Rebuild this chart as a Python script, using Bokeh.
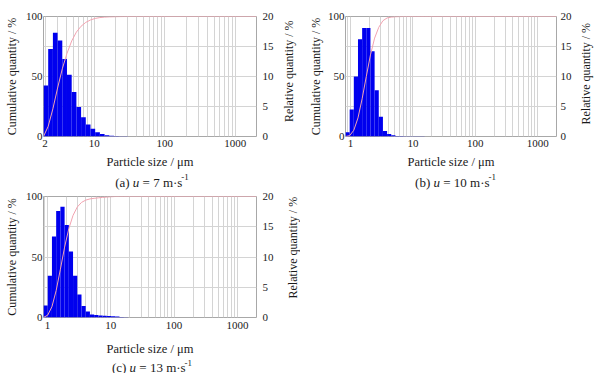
import math
from bokeh.plotting import figure
from bokeh.models import Range1d, LinearAxis, FixedTicker, NumeralTickFormatter
from bokeh.layouts import column, row
from bokeh.core.properties import value
from bokeh.embed import file_html
from bokeh.resources import INLINE

FONT = "Liberation Serif"
TXT = "#1a1a1a"

# ---------------- data ----------------
# bin edges (um), relative quantity per bin (%), cumulative quantity at each edge (%)
edges_a = [1.9, 2.215, 2.583, 3.011, 3.511, 4.093, 4.773, 5.564, 6.488, 7.564,
           8.819, 10.28, 11.99, 13.98, 16.30, 19.0, 22.15, 25.83, 30.11]
rel_a = [8.5, 14.6, 17.3, 16.0, 12.9, 10.3, 7.4, 4.9, 3.2, 2.0,
         1.3, 0.7, 0.4, 0.2, 0.12, 0.08, 0.05, 0.03]
cum_a = [0, 8.5, 23.1, 40.4, 56.4, 69.3, 79.6, 87.0, 91.9, 95.1,
         97.1, 98.4, 99.1, 99.5, 99.7, 99.8, 99.9, 99.95, 100]

edges_b = [0.83, 0.968, 1.128, 1.316, 1.534, 1.788, 2.085, 2.431, 2.834, 3.304,
           3.853, 4.492, 5.237, 6.106, 7.119, 8.3, 9.677, 11.28, 13.16, 15.34, 17.88]
rel_b = [0.7, 4.5, 10.0, 16.2, 18.1, 18.1, 14.2, 7.7, 3.3, 0.9,
         0.4, 0.2, 0.1, 0.08, 0.06, 0.05, 0.05, 0.04, 0.03, 0.02]
cum_b = [0, 0.7, 5.2, 15.5, 31.5, 50.0, 68.0, 82.0, 91.0, 96.5,
         98.8, 99.5, 99.8, 99.9, 100, 100, 100, 100, 100, 100, 100]

edges_c = [0.865, 1.009, 1.176, 1.371, 1.599, 1.864, 2.173, 2.533, 2.954, 3.444,
           4.015, 4.681, 5.458, 6.363, 7.419, 8.65, 10.09, 11.76, 13.71, 15.99, 18.64]
rel_c = [2.0, 6.9, 13.4, 17.6, 18.3, 15.3, 10.9, 6.9, 3.8, 1.9,
         1.0, 0.5, 0.4, 0.35, 0.3, 0.25, 0.2, 0.15, 0.1, 0.05]
cum_c = [0, 2.0, 8.9, 22.3, 39.9, 58.2, 73.5, 84.4, 91.3, 95.1,
         97.0, 98.0, 98.5, 98.9, 99.25, 99.55, 99.8, 100, 100, 100, 100]

xrange_a = (1.9, 2000)
xrange_b = (0.83, 2000)
xrange_c = (0.865, 2000)
xticks_a = [2, 10, 100, 1000]
xticks_bc = [1, 10, 100, 1000]
left_ticks = [0, 50, 100]
right_ticks = [0, 5, 10, 15, 20]
hgrid = [0, 25, 50, 75, 100]

caption_a = ["(a) ", "u", " = 7 m·s", "-1"]
caption_b = ["(b) ", "u", " = 10 m·s", "-1"]
caption_c = ["(c) ", "u", " = 13 m·s", "-1"]

x_title = "Particle size / μm"
yl_title = "Cumulative quantity / %"
yr_title = "Relative quantity / %"

# ---------------- helpers ----------------
WID = {' ': 250, '(': 333, ')': 333, 'a': 444, 'b': 500, 'c': 444, '=': 564,
       '0': 500, '1': 500, '3': 500, '7': 500, 'm': 778, '·': 250, 's': 389,
       '-': 333, 'u': 500}
GRID = "#d4d4d4"


def tw(s, size):
    return sum(WID.get(ch, 500) for ch in s) * size / 1000.0


def log_minors(lo, hi):
    out = []
    for dec in (0.1, 1, 10, 100, 1000):
        for m in range(1, 10):
            v = m * dec
            if lo < v <= hi:
                out.append(v)
    return out


def blank(width, height):
    f = figure(width=width, height=height, x_range=Range1d(0, width),
               y_range=Range1d(0, height), output_backend="svg",
               toolbar_location=None, x_axis_location=None,
               y_axis_location=None, min_border=0)
    f.outline_line_color = None
    f.grid.visible = False
    return f


def panel(edges, rel, cum, xr, xticks, width, height, bl, br, bt, bb,
          yt_standoff=4, rl_standoff=6, xl_standoff=3, xt_standoff=5):
    p = figure(width=width, height=height, x_axis_type="log",
               x_range=Range1d(*xr), y_range=Range1d(0, 100),
               output_backend="svg", toolbar_location=None,
               min_border_left=bl, min_border_right=br,
               min_border_top=bt, min_border_bottom=bb)
    p.background_fill_color = "white"
    p.border_fill_color = "white"
    p.outline_line_color = "#a8a8a8"
    p.outline_line_width = 1
    p.extra_y_ranges = {"rel": Range1d(0, 20)}

    p.quad(left=edges[:-1], right=edges[1:], bottom=0, top=rel,
           y_range_name="rel", fill_color="#0000ee", line_color=None)
    p.line(edges + [xr[1]], cum + [100], line_color="#f2a3b0", line_width=1)

    minors = [v for v in log_minors(xr[0], xr[1]) if v not in xticks]
    xa = p.xaxis[0]
    xa.ticker = FixedTicker(ticks=xticks, minor_ticks=minors)
    xa.formatter = NumeralTickFormatter(format="0")
    xa.axis_label = x_title
    p.xgrid.grid_line_color = GRID
    p.xgrid.minor_grid_line_color = GRID

    ya = p.yaxis[0]
    ya.ticker = FixedTicker(ticks=left_ticks, minor_ticks=[])
    ya.axis_label = yl_title
    p.ygrid.ticker = FixedTicker(ticks=hgrid, minor_ticks=[])
    p.ygrid.grid_line_color = GRID

    ra = LinearAxis(y_range_name="rel",
                    ticker=FixedTicker(ticks=right_ticks, minor_ticks=[]))
    p.add_layout(ra, "right")

    for ax in (xa, ya, ra):
        ax.axis_line_color = None
        ax.major_tick_line_color = None
        ax.minor_tick_line_color = None
        ax.major_tick_out = 0
        ax.major_tick_in = 0
        ax.minor_tick_out = 0
        ax.minor_tick_in = 0
        ax.major_label_text_font = FONT
        ax.major_label_text_font_size = "11px"
        ax.major_label_text_color = TXT
        ax.axis_label_text_font = FONT
        ax.axis_label_text_font_style = "normal"
        ax.axis_label_text_color = TXT
        ax.axis_label_text_font_size = "12px"
    xa.axis_label_text_font_size = "12.5px"
    xa.major_label_standoff = xl_standoff
    xa.axis_label_standoff = xt_standoff
    ya.major_label_standoff = 1
    ya.axis_label_standoff = yt_standoff
    ra.major_label_standoff = rl_standoff
    return p


def right_title(width, height, cx, cy):
    t = blank(width, height)
    t.text(x=[cx], y=[cy], text=[yr_title], angle=math.pi / 2,
           text_font=value(FONT), text_font_size=value("12px"),
           text_color=TXT, text_align="center", text_baseline="middle")
    return t


def caption(cap, width, height, cx, cy, sup_dy=5):
    c = blank(width, height)
    parts = [(cap[0], "normal", 13, 0), (cap[1], "italic", 13, 0),
             (cap[2], "normal", 13, 0), (cap[3], "normal", 9, sup_dy)]
    total = sum(tw(t, s) for t, _, s, _ in parts)
    x = cx - total / 2
    for t, st, s, dy in parts:
        lead = t[:len(t) - len(t.lstrip())]
        c.text(x=[x + tw(lead, s)], y=[cy + dy], text=[t.strip()],
               text_font=value(FONT), text_font_size=value(f"{s}px"),
               text_font_style=value(st), text_color=TXT,
               text_align="left", text_baseline="middle")
        x += tw(t, s)
    return c


# row 1 : page y 0 .. 172 (panels), 172 .. 190 (captions)
pa = panel(edges_a, rel_a, cum_a, xrange_a, xticks_a, 276, 172, 43, 20, 16, 36)
ta = right_title(24, 172, 12, 93.5)
pb = panel(edges_b, rel_b, cum_b, xrange_b, xticks_bc, 276, 172, 45, 20, 16, 36,
           yt_standoff=2, rl_standoff=4)
tb = right_title(21, 172, 9, 90)
ca = caption(caption_a, 300, 18, 151.5, 8.5)
cb = caption(caption_b, 297, 18, 155, 8.5)

# row 2 : page y 190 .. 358 (panel), 358 .. 373 (caption)
pc = panel(edges_c, rel_c, cum_c, xrange_c, xticks_bc, 276, 168, 43, 20, 6, 41,
           xl_standoff=4, xt_standoff=10)
tc = right_title(24, 168, 16, 97)
cc = caption(caption_c, 300, 15, 151.5, 6.5, sup_dy=4.5)

layout = column(row(pa, ta, pb, tb), row(ca, cb), row(pc, tc), cc)

open("out.html", "w").write(file_html(layout, INLINE))
